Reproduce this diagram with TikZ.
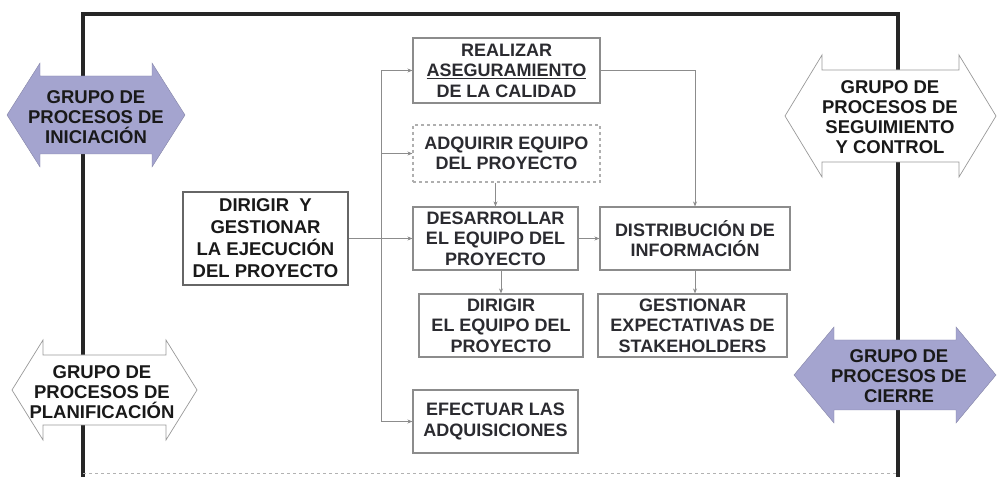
\documentclass[tikz,border=0pt]{standalone}
\usepackage{fontspec}
\setmainfont{Liberation Sans}
\usepackage{tikz}
\usetikzlibrary{arrows.meta,positioning}
\definecolor{lavender}{RGB}{164,164,207}
\definecolor{boxgray}{RGB}{140,140,140}
\definecolor{inkgray}{RGB}{43,43,48}

% double arrow: style, left tip, right tip, centre y, head half, body half, head length
\newcommand{\dblarrow}[7]{%
  \path[#1] (#2,#4) -- (#2+#7,#4-#5) -- (#2+#7,#4-#6) -- (#3-#7,#4-#6)
    -- (#3-#7,#4-#5) -- (#3,#4) -- (#3-#7,#4+#5) -- (#3-#7,#4+#6)
    -- (#2+#7,#4+#6) -- (#2+#7,#4+#5) -- cycle;}

\begin{document}
\begin{tikzpicture}[x=1pt,y=-1pt,
  box/.style={draw=boxgray, line width=1.1pt, fill=white, align=center,
    text=inkgray, inner sep=0pt,
    font=\fontsize{18}{20.5}\selectfont\bfseries},
  mainbox/.style={box, draw=black!60, line width=2pt, text=black!90,
    font=\fontsize{18.5}{22}\selectfont\bfseries},
  grupo/.style={align=center, text=black!90, inner sep=0pt,
    font=\fontsize{18.5}{20}\selectfont\bfseries},
  filled/.style={fill=lavender, draw=lavender!80!black, line width=0.4pt},
  hollow/.style={fill=white, draw=black!40, line width=0.7pt},
  conn/.style={draw=black!45, line width=0.8pt,
    -{Stealth[length=5pt,width=4pt]}}]

\useasboundingbox (0,0) rectangle (997,478);

% frame
\draw[black!85, line width=3.5pt] (83,477) -- (83,14) -- (898,14) -- (898,477);
\draw[black!30, dashed, line width=0.8pt] (83,473) -- (898,473);

% group arrows
\dblarrow{filled}{7}{185}{115}{52}{39}{33}
\node[grupo] (ini) at (96,117) {GRUPO DE\\PROCESOS DE\\INICIACIÓN};

\dblarrow{hollow}{785}{996}{116}{61}{46}{37}
\node[grupo] (seg) at (890,117) {GRUPO DE\\PROCESOS DE\\SEGUIMIENTO\\Y CONTROL};

\dblarrow{hollow}{12}{197}{390}{50}{35}{31}
\node[grupo] (pla) at (102,392) {GRUPO DE\\PROCESOS DE\\PLANIFICACIÓN};

\dblarrow{filled}{794}{996}{375}{48}{35}{40}
\node[grupo] (cie) at (899,376) {GRUPO DE\\PROCESOS DE\\CIERRE};

% process boxes
\node[mainbox, minimum width=165, minimum height=93] (dir) at (265.5,238.5)
  {DIRIGIR\ \ Y\\GESTIONAR\\LA EJECUCIÓN\\DEL PROYECTO};
\node[box, minimum width=187, minimum height=65] (ase) at (506.5,70.5)
  {REALIZAR\\\underline{ASEGURAMIENTO}\\DE LA CALIDAD};
\node[box, dashed, draw=boxgray!70, minimum width=187, minimum height=57] (adq) at (506.5,153.5)
  {ADQUIRIR EQUIPO\\DEL PROYECTO};
\node[box, minimum width=165, minimum height=63] (des) at (495.5,238.5)
  {DESARROLLAR\\EL EQUIPO DEL\\PROYECTO};
\node[box, minimum width=190, minimum height=63] (dis) at (695,238.5)
  {DISTRIBUCIÓN DE\\INFORMACIÓN};
\node[box, minimum width=164, minimum height=63] (deq) at (501,325.5)
  {DIRIGIR\\EL EQUIPO DEL\\PROYECTO};
\node[box, minimum width=189, minimum height=63] (ges) at (692.5,325.5)
  {GESTIONAR\\EXPECTATIVAS DE\\STAKEHOLDERS};
\node[box, minimum width=165, minimum height=63] (efe) at (495.5,421.5)
  {EFECTUAR LAS\\ADQUISICIONES};

% connectors
\coordinate (tk) at (381,238.5);
\path[conn]
    (dir) edge (des)
    (des) edge (dis);
\draw[conn] (tk) |- (ase.west);
\draw[conn] (tk) |- (adq.west);
\draw[conn] (tk) |- (efe.west);
\draw[conn] (ase.east) -| (dis.north);
\draw[conn] (adq.south -| des.north) -- (des.north);
\draw[conn] (des.south -| deq.north) -- (deq.north);
\draw[conn] (dis.south) -- (dis.south |- ges.north);
\end{tikzpicture}
\end{document}
